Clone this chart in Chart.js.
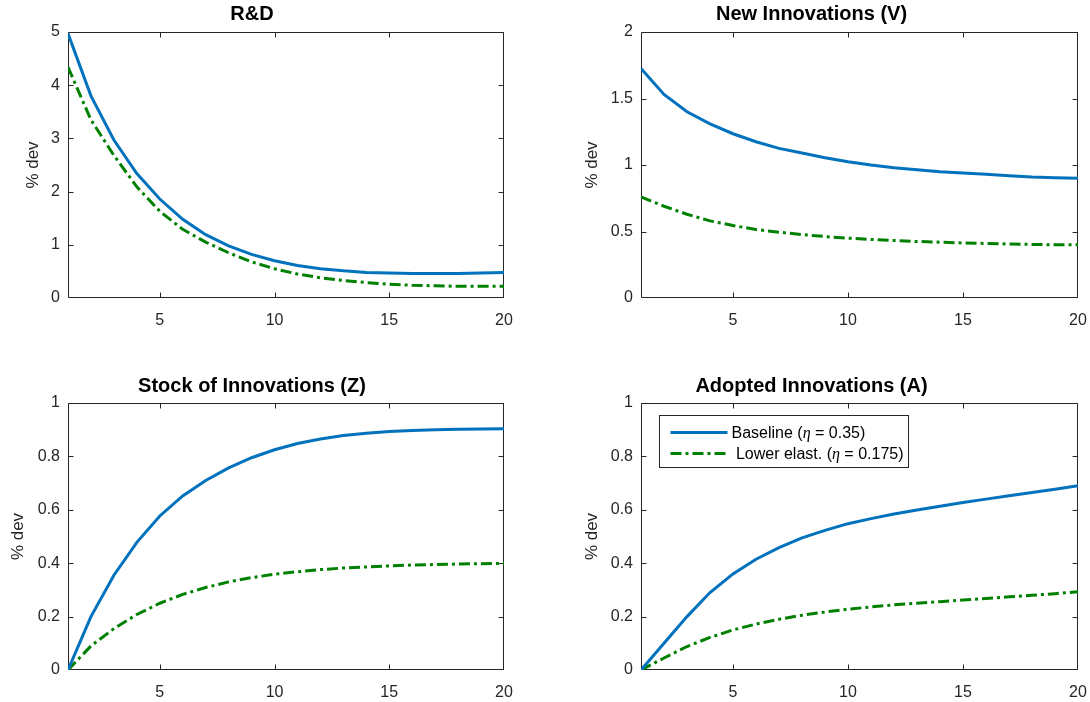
<!DOCTYPE html>
<html>
<head>
<meta charset="utf-8">
<script src="https://cdn.jsdelivr.net/npm/chart.js@4.4.1/dist/chart.umd.min.js"></script>
<style>
  html, body { margin: 0; padding: 0; background: #fff; }
  body { width: 1090px; height: 702px; position: relative; overflow: hidden; }
  canvas { position: absolute; }
</style>
</head>
<body>
<canvas id="rd" width="545" height="345" style="left:0;top:0"></canvas>
<canvas id="newInnov" width="545" height="345" style="left:545px;top:0"></canvas>
<canvas id="stock" width="545" height="357" style="left:0;top:345px"></canvas>
<canvas id="adopt" width="545" height="357" style="left:545px;top:345px"></canvas>
<script>
// Impulse responses, % deviation from steady state, periods 1..20
const periods = [1, 2, 3, 4, 5, 6, 7, 8, 9, 10, 11, 12, 13, 14, 15, 16, 17, 18, 19, 20];
const xTicks = [5, 10, 15, 20];

const seriesLabels = ['Baseline (η = 0.35)', ' Lower elast. (η = 0.175)'];
const panelTitles = ['R&D', 'New Innovations (V)', 'Stock of Innovations (Z)', 'Adopted Innovations (A)'];
const yLabel = '% dev';

const rdBase = [4.97, 3.80, 2.97, 2.34, 1.86, 1.48, 1.19, 0.98, 0.82, 0.70, 0.61, 0.55, 0.51, 0.48, 0.47, 0.46, 0.46, 0.46, 0.47, 0.48];
const rdLow  = [4.34, 3.35, 2.68, 2.09, 1.63, 1.29, 1.05, 0.85, 0.68, 0.55, 0.45, 0.38, 0.33, 0.29, 0.26, 0.24, 0.23, 0.22, 0.22, 0.22];
const rdTicks = [0, 1, 2, 3, 4, 5];

const newInnovBase = [1.725, 1.53, 1.40, 1.31, 1.235, 1.175, 1.125, 1.09, 1.055, 1.025, 1.0, 0.98, 0.965, 0.95, 0.94, 0.93, 0.92, 0.91, 0.905, 0.90];
const newInnovLow  = [0.76, 0.69, 0.63, 0.58, 0.545, 0.515, 0.495, 0.477, 0.462, 0.45, 0.44, 0.432, 0.425, 0.42, 0.414, 0.41, 0.406, 0.403, 0.40, 0.40];
const newInnovTicks = [0, 0.5, 1, 1.5, 2];

const stockBase = [0, 0.20, 0.355, 0.478, 0.577, 0.652, 0.71, 0.757, 0.795, 0.825, 0.848, 0.865, 0.878, 0.887, 0.893, 0.897, 0.900, 0.902, 0.903, 0.904];
const stockLow  = [0, 0.09, 0.155, 0.208, 0.25, 0.283, 0.309, 0.33, 0.346, 0.359, 0.368, 0.376, 0.382, 0.386, 0.39, 0.393, 0.395, 0.397, 0.398, 0.399];

const adoptBase = [0, 0.10, 0.20, 0.29, 0.36, 0.415, 0.458, 0.495, 0.523, 0.548, 0.567, 0.584, 0.599, 0.613, 0.627, 0.64, 0.653, 0.665, 0.677, 0.69];
const adoptLow  = [0, 0.045, 0.088, 0.122, 0.15, 0.172, 0.19, 0.205, 0.217, 0.228, 0.236, 0.244, 0.25, 0.256, 0.262, 0.268, 0.274, 0.28, 0.286, 0.293];

const unitTicks = [0, 0.2, 0.4, 0.6, 0.8, 1];

const BLUE = '#0072BD';
const GREEN = '#008000';
const AXIS = '#262626';
const SANS = '"Liberation Sans", Arial, Helvetica, sans-serif';
const SERIF = '"Liberation Serif", "DejaVu Serif", serif';
const DASH_DOT = [11, 4, 3, 4];

Chart.defaults.font.family = SANS;

// Box around the axes with inward tick marks on all four sides
const boxAxes = {
  id: 'boxAxes',
  beforeDatasetsDraw(chart) {
    const { ctx, chartArea: a, scales: { x, y } } = chart;
    const L = Math.round(a.left) + 0.5, R = Math.round(a.right) - 0.5;
    const T = Math.round(a.top) + 0.5, B = Math.round(a.bottom) - 0.5;
    const clamp = (v, lo, hi) => Math.min(Math.max(v, lo), hi);
    const len = 5;
    ctx.save();
    ctx.strokeStyle = AXIS;
    ctx.lineWidth = 1;
    ctx.beginPath();
    ctx.rect(L, T, R - L, B - T);
    x.ticks.forEach(t => {
      const px = clamp(Math.round(x.getPixelForValue(t.value)) + 0.5, L, R);
      ctx.moveTo(px, B); ctx.lineTo(px, B - len);
      ctx.moveTo(px, T); ctx.lineTo(px, T + len);
    });
    y.ticks.forEach(t => {
      const py = clamp(Math.round(y.getPixelForValue(t.value)) + 0.5, T, B);
      ctx.moveTo(L, py); ctx.lineTo(L + len, py);
      ctx.moveTo(R, py); ctx.lineTo(R - len, py);
    });
    ctx.stroke();
    ctx.restore();
  }
};

// Boxed legend inside the plot area, η set in italic serif
const insetLegend = {
  id: 'insetLegend',
  afterDraw(chart, args, opts) {
    if (!opts.display) return;
    const { ctx, chartArea: a } = chart;
    const size = 16;
    const fontSans = size + 'px ' + SANS;
    const fontItal = 'italic ' + size + 'px ' + SERIF;
    const bx = Math.round(a.left + 18) + 0.5, by = Math.round(a.top + 12) + 0.5;
    const rowY = [17, 38];
    const sampleX0 = 11, sampleX1 = 68, textX = 72;

    const pieces = lbl => {
      const i = lbl.indexOf('η');
      return [[lbl.slice(0, i), fontSans], ['η', fontItal], [lbl.slice(i + 1), fontSans]];
    };
    const widthOf = lbl => pieces(lbl).reduce((w, [s, f]) => { ctx.font = f; return w + ctx.measureText(s).width; }, 0);

    const dsets = chart.data.datasets;
    const maxW = Math.max(...dsets.map(d => widthOf(d.label)));
    const bw = Math.round(textX + maxW + 5), bh = 52;

    ctx.save();
    ctx.fillStyle = '#fff';
    ctx.fillRect(bx, by, bw, bh);
    ctx.strokeStyle = AXIS;
    ctx.lineWidth = 1;
    ctx.strokeRect(bx, by, bw, bh);

    dsets.forEach((d, k) => {
      const cy = by + rowY[k];
      ctx.beginPath();
      ctx.setLineDash(d.borderDash || []);
      ctx.strokeStyle = d.borderColor;
      ctx.lineWidth = d.borderWidth;
      ctx.moveTo(bx + sampleX0, cy);
      ctx.lineTo(bx + sampleX1, cy);
      ctx.stroke();
      ctx.setLineDash([]);

      ctx.fillStyle = '#000';
      ctx.textBaseline = 'middle';
      ctx.textAlign = 'left';
      let tx = bx + textX;
      pieces(d.label).forEach(([s, f]) => {
        ctx.font = f;
        ctx.fillText(s, tx, cy + 1);
        tx += ctx.measureText(s).width;
      });
    });
    ctx.restore();
  }
};

function series(values) {
  return periods.map((p, i) => ({ x: p, y: values[i] }));
}

function makePanel(id, title, base, low, yTicks, geo, showLegend) {
  return new Chart(document.getElementById(id), {
    type: 'line',
    data: {
      datasets: [
        { label: seriesLabels[0], data: series(base), borderColor: BLUE, borderWidth: 3,
          pointRadius: 0, tension: 0, fill: false },
        { label: seriesLabels[1], data: series(low), borderColor: GREEN, borderWidth: 3,
          borderDash: DASH_DOT, pointRadius: 0, tension: 0, fill: false }
      ]
    },
    options: {
      responsive: false,
      animation: false,
      events: [],
      layout: { padding: { left: 0, right: geo.right, top: 0, bottom: 0 } },
      plugins: {
        legend: { display: false },
        tooltip: { enabled: false },
        title: {
          display: true, text: title, color: '#000',
          font: { family: SANS, size: 20, weight: 'bold' },
          padding: { top: geo.titleTop, bottom: geo.titleBottom }
        },
        insetLegend: { display: showLegend }
      },
      scales: {
        x: {
          type: 'linear', min: periods[0], max: periods[periods.length - 1],
          afterBuildTicks: s => { s.ticks = xTicks.map(v => ({ value: v })); },
          afterFit: s => { s.height = geo.xh; s.paddingLeft = 0; s.paddingRight = 0; },
          grid: { display: false, drawTicks: false },
          border: { display: false },
          ticks: { color: AXIS, font: { size: 16 }, padding: 13, maxRotation: 0, autoSkip: false,
                   callback: v => String(v) }
        },
        y: {
          type: 'linear', min: yTicks[0], max: yTicks[yTicks.length - 1],
          afterBuildTicks: s => { s.ticks = yTicks.map(v => ({ value: v })); },
          afterFit: s => { s.width = geo.yw; s.paddingTop = 0; s.paddingBottom = 0; },
          grid: { display: false, drawTicks: false },
          border: { display: false },
          ticks: { color: AXIS, font: { size: 16 }, padding: 8, autoSkip: false,
                   callback: v => String(v) },
          title: { display: true, text: yLabel, color: AXIS, font: { size: 17 },
                   padding: { top: geo.labelPad, bottom: 0 } }
        }
      }
    },
    plugins: [boxAxes, insetLegend]
  });
}

makePanel('rd', panelTitles[0], rdBase, rdLow, rdTicks,
  { right: 41, yw: 68, xh: 47, titleTop: 2.5, titleBottom: 5.5, labelPad: 23 }, false);
makePanel('newInnov', panelTitles[1], newInnovBase, newInnovLow, newInnovTicks,
  { right: 12, yw: 96, xh: 47, titleTop: 2.5, titleBottom: 5.5, labelPad: 37 }, false);
makePanel('stock', panelTitles[2], stockBase, stockLow, unitTicks,
  { right: 41, yw: 68, xh: 32, titleTop: 29, titleBottom: 5, labelPad: 8 }, false);
makePanel('adopt', panelTitles[3], adoptBase, adoptLow, unitTicks,
  { right: 12, yw: 96, xh: 32, titleTop: 29, titleBottom: 5, labelPad: 37 }, true);
</script>
</body>
</html>
